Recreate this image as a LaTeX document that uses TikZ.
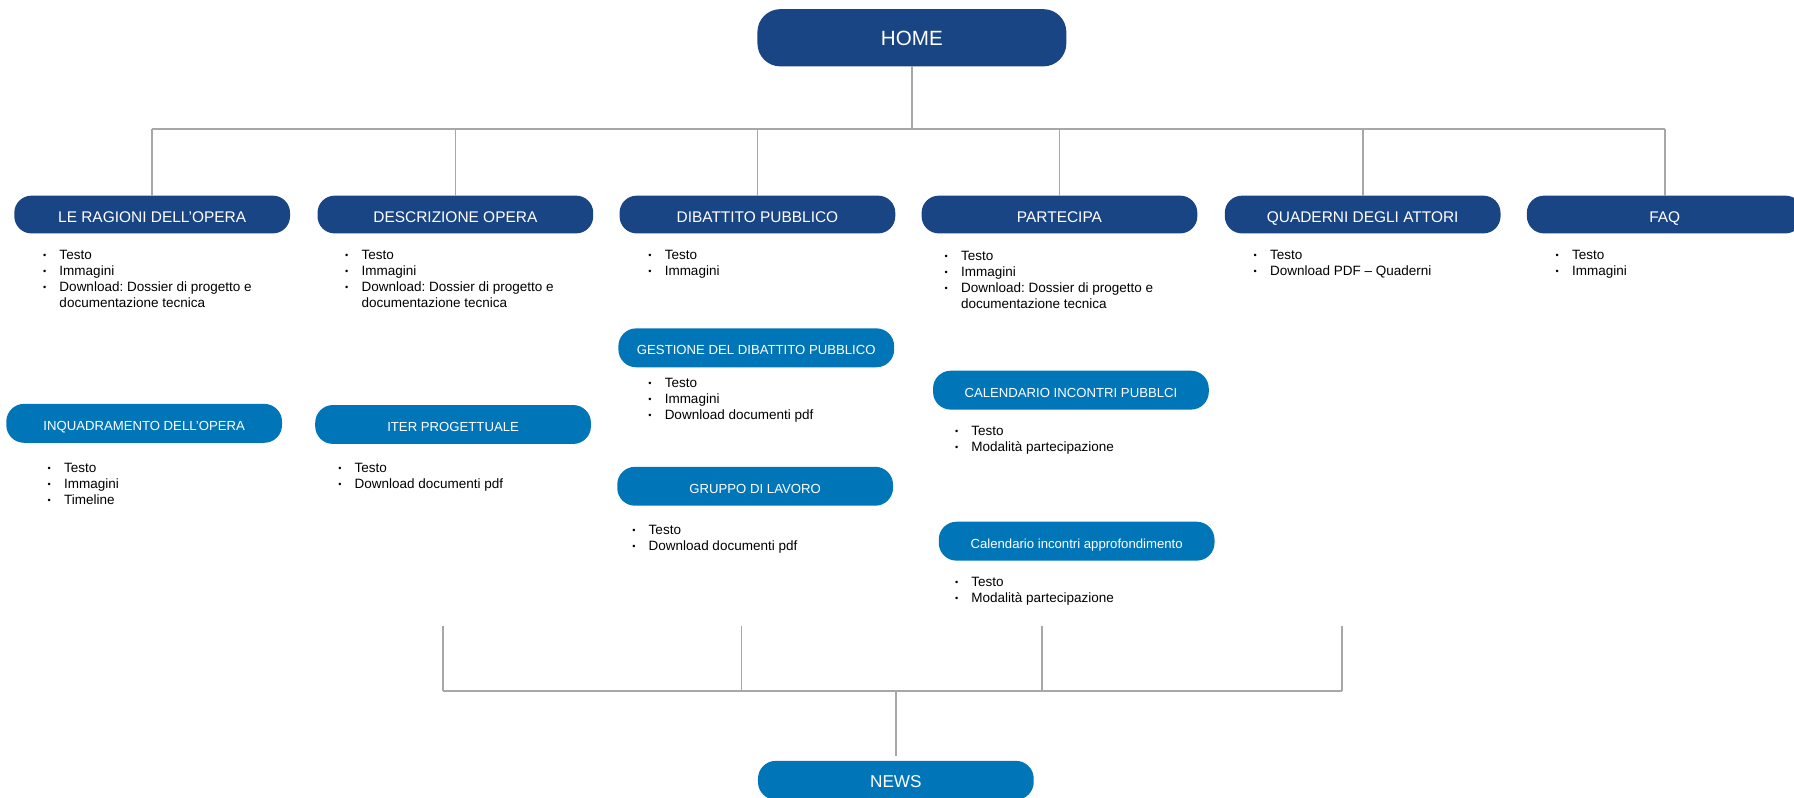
\documentclass[tikz,border=0pt]{standalone}
\usepackage{fontspec}
\setmainfont{Liberation Sans}
\usetikzlibrary{positioning}
\frenchspacing

\definecolor{bluscuro}{HTML}{1A4585}
\definecolor{bluchiaro}{HTML}{0076B9}
\definecolor{grigiolinea}{HTML}{A7A7A7}

\begin{document}
\begin{tikzpicture}[
  x=1pt,
  y=-1pt,
  every node/.append style={inner sep=0pt, outer sep=0pt},
  sezione/.style={
    fill=bluscuro,
    text=white,
    rounded corners=15pt,
    minimum width=241pt,
    minimum height=33pt,
    text height=14.5pt,
    text depth=0pt,
    font=\fontsize{13.5}{16}\selectfont,
  },
  sottosezione/.style={
    sezione,
    fill=bluchiaro,
    rounded corners=15.5pt,
    minimum height=34pt,
    text height=12.5pt,
    font=\fontsize{11.5}{14}\selectfont,
  },
  lista/.style={
    anchor=north west,
    align=left,
    font=\fontsize{11.8}{14}\selectfont,
  },
  collegamento/.style={
    draw=grigiolinea,
    line width=1.5pt,
  },
]
  \useasboundingbox (0, 0) rectangle (1568, 697);
  \clip (0, 0) rectangle (1568, 697);

  % radice
  \node[sezione, minimum width=270pt, minimum height=50pt,
    rounded corners=20pt, text height=13pt, font=\fontsize{18}{20}\selectfont]
    (home) at (797, 33) {HOME};
  \coordinate (snodo) at (797, 113);
  \draw[collegamento] (home.south) -- (snodo);

  % sezioni principali
  \foreach \name/\x/\testo in {
    ragioni/133/LE RAGIONI DELL’OPERA,
    descrizione/398/DESCRIZIONE OPERA,
    dibattito/662/DIBATTITO PUBBLICO,
    partecipa/926/PARTECIPA,
    quaderni/1191/QUADERNI DEGLI ATTORI,
    faq/1455/FAQ%
  } {
    \node[sezione] (\name) at (\x, 187.5) {\testo};
    \draw[collegamento] (\name.north) -- (\name.north |- snodo);
  }
  \draw[collegamento] (ragioni.north |- snodo) -- (faq.north |- snodo);

  % sottosezioni
  \node[sottosezione] (inquadramento) at (126, 370) {INQUADRAMENTO DELL’OPERA};
  \node[sottosezione] (iter) at (396, 371) {ITER PROGETTUALE};
  \node[sottosezione] (gestione) at (661, 304) {GESTIONE DEL DIBATTITO PUBBLICO};
  \node[sottosezione] (gruppo) at (660, 425) {GRUPPO DI LAVORO};
  \node[sottosezione] (calpubblici) at (936, 341) {CALENDARIO INCONTRI PUBBLCI};
  \node[sottosezione] (calapprof) at (941, 473) {Calendario incontri approfondimento};

  % contenuti
  \def\pallino{\raisebox{0.8pt}{\fontsize{8}{8}\selectfont\textbullet}}
  \def\Voci#1#2#3{
    \node[lista] (#1) at (#2) {%
      \begin{tabular}{@{\hspace{0.7pt}}l@{\hspace{11.5pt}}l@{}}#3\end{tabular}};%
  }
  \Voci{vragioni}{37, 217}{\pallino & Testo\\ \pallino & Immagini\\
    \pallino & Download: Dossier di progetto e\\ & documentazione tecnica}
  \Voci{vdescrizione}{301, 217}{\pallino & Testo\\ \pallino & Immagini\\
    \pallino & Download: Dossier di progetto e\\ & documentazione tecnica}
  \Voci{vdibattito}{566, 217}{\pallino & Testo\\ \pallino & Immagini}
  \Voci{vpartecipa}{825, 218}{\pallino & Testo\\ \pallino & Immagini\\
    \pallino & Download: Dossier di progetto e\\ & documentazione tecnica}
  \Voci{vquaderni}{1095, 217}{\pallino & Testo\\
    \pallino & Download PDF – Quaderni}
  \Voci{vfaq}{1359, 217}{\pallino & Testo\\ \pallino & Immagini}
  \Voci{vinquadramento}{41, 403}{\pallino & Testo\\ \pallino & Immagini\\
    \pallino & Timeline}
  \Voci{viter}{295, 403}{\pallino & Testo\\
    \pallino & Download documenti pdf}
  \Voci{vgestione}{566, 329}{\pallino & Testo\\ \pallino & Immagini\\
    \pallino & Download documenti pdf}
  \Voci{vgruppo}{552, 457}{\pallino & Testo\\
    \pallino & Download documenti pdf}
  \Voci{vcalpubblici}{834, 371}{\pallino & Testo\\
    \pallino & Modalità partecipazione}
  \Voci{vcalapprof}{834, 503}{\pallino & Testo\\
    \pallino & Modalità partecipazione}

  % raccordo verso le news
  \node[sottosezione, font=\fontsize{15}{17}\selectfont, text height=13pt]
    (news) at (783, 682) {NEWS};
  \coordinate (raccordo) at (783, 604);
  \foreach \x [count=\i] in {387, 648, 911, 1173} {
    \coordinate (fine\i) at (\x, 547);
    \draw[collegamento] (fine\i) -- (fine\i |- raccordo);
  }
  \draw[collegamento] (fine1 |- raccordo) -- (fine4 |- raccordo);
  \draw[collegamento, shorten >=4pt] (raccordo) -- (news.north);
\end{tikzpicture}
\end{document}
